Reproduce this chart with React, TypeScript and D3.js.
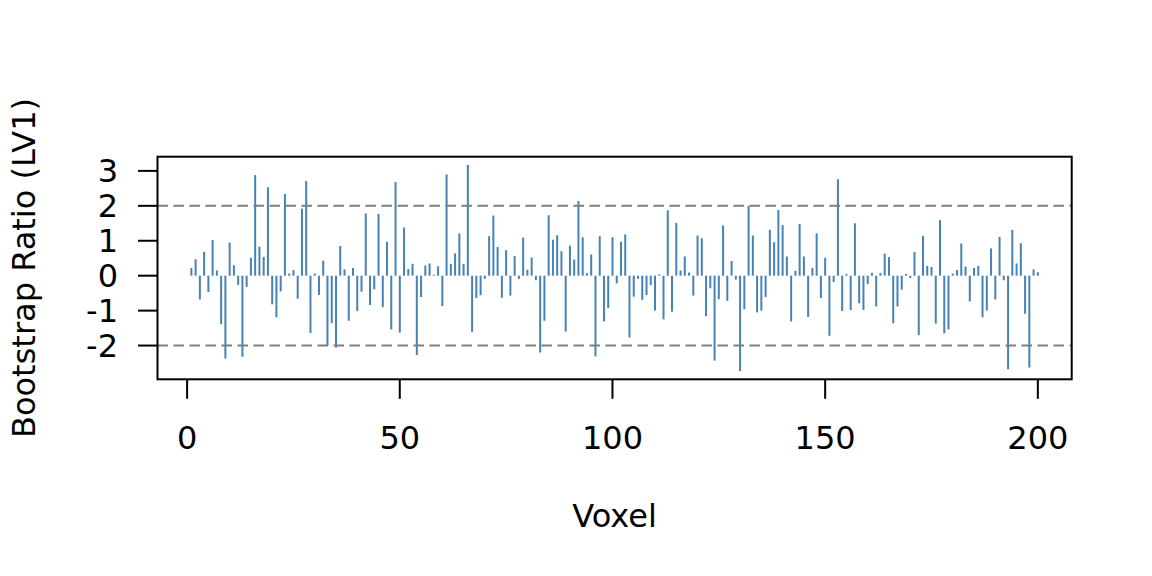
import * as d3 from 'd3'

// Bootstrap ratios for voxels 1..200
const ratios: number[] = [
  0.22, 0.47, -0.68, 0.68, -0.47, 1.02, 0.15, -1.39, -2.37, 0.95,
  0.3, -0.26, -2.32, -0.32, 0.51, 2.88, 0.83, 0.54, 2.53, -0.82,
  -1.19, -0.45, 2.34, 0.06, 0.16, -0.66, 1.92, 2.71, -1.64, 0.06,
  -0.55, 0.43, -2.0, -1.36, -2.06, 0.85, 0.18, -1.29, 0.22, -1.01,
  -0.46, 1.78, -0.84, -0.39, 1.77, -0.9, 0.97, -1.54, 2.68, -1.63,
  1.38, 0.19, 0.34, -2.27, -0.61, 0.29, 0.35, 0.03, 0.27, -0.87,
  2.9, 0.34, 0.64, 1.21, 0.34, 3.17, -1.61, -0.64, -0.56, -0.09,
  1.13, 1.72, 0.82, -0.63, 0.73, -0.57, 0.56, -0.09, 1.09, 0.17,
  0.52, -0.13, -2.2, -1.29, 1.73, 1.03, 1.16, 0.7, -1.6, 0.86,
  0.46, 2.14, 1.1, 0.07, 0.61, -2.31, 1.13, -1.31, -0.93, 1.1,
  -0.22, 0.97, 1.18, -1.77, -0.6, -0.09, -0.69, -0.55, -0.27, -1.0,
  0.04, -1.25, 1.87, -1.03, 1.51, 0.15, 0.55, 0.09, -0.57, 1.15,
  1.07, -1.16, -0.36, -2.43, -0.67, 1.44, -0.72, 0.42, -0.11, -2.73,
  -0.96, 2.0, 1.15, -1.05, -1.0, -0.61, 1.31, 0.96, 1.88, 1.45,
  0.55, -1.31, 0.14, 1.48, 0.55, -1.18, 0.22, 1.21, -0.64, 0.51,
  -1.72, -0.18, 2.76, -1.01, 0.05, -0.98, 1.5, -0.79, -0.98, -0.24,
  0.08, -0.88, 0.08, 0.63, 0.53, -1.36, -0.88, -0.4, 0.05, -0.07,
  0.68, -1.7, 1.14, 0.28, 0.25, -1.37, 1.59, -1.65, -1.54, 0.06,
  0.16, 0.92, 0.26, -0.74, 0.22, 0.28, -1.19, -1.0, 0.78, -0.68,
  1.11, -0.13, -2.68, 1.31, 0.35, 0.93, -1.09, -2.63, 0.18, 0.1,
]
const voxels = ratios.map((_, i) => i + 1)
const xTicks = [0, 50, 100, 150, 200]
const yTicks = [-2, -1, 0, 1, 2, 3]
const cutoffs = [-2, 2]

const width = 1152
const height = 576
const margin = { top: 156.7, right: 80.3, bottom: 196.7, left: 157.5 }
const font = "'DejaVu Sans', sans-serif"
const fontSize = 32

// R style 4% axis extension
function extend([lo, hi]: [number, number]): [number, number] {
  const pad = (hi - lo) * 0.04
  return [lo - pad, hi + pad]
}

export default function App() {
  const x = d3.scaleLinear()
    .domain(extend(d3.extent(voxels) as [number, number]))
    .range([margin.left, width - margin.right])
  const y = d3.scaleLinear()
    .domain(extend(d3.extent(ratios) as [number, number]))
    .range([height - margin.bottom, margin.top])

  const [x0, x1] = x.range()
  const [yb, yt] = y.range()
  const tick = 19.5

  return (
    <svg
      width={width}
      height={height}
      style={{ position: 'absolute', left: 0, top: 0, display: 'block', background: '#fff' }}
      fontFamily={font}
    >
      {/* bars (type = "h") */}
      <g stroke="#4682B4" strokeWidth={2}>
        {ratios.map((v, i) => (
          <line key={i} x1={x(voxels[i])} x2={x(voxels[i])} y1={y(0)} y2={y(v)} />
        ))}
      </g>

      {/* cutoff lines */}
      <g stroke="#7f7f7f" strokeWidth={2} strokeDasharray="10.5,5.5">
        {cutoffs.map(c => (
          <line key={c} x1={x0} x2={x1} y1={y(c)} y2={y(c)} />
        ))}
      </g>

      {/* box */}
      <rect x={x0} y={yt} width={x1 - x0} height={yb - yt} fill="none" stroke="#000" strokeWidth={2} />

      {/* x axis */}
      <g>
        {xTicks.map(t => (
          <g key={t}>
            <line x1={x(t)} x2={x(t)} y1={yb} y2={yb + tick} stroke="#000" strokeWidth={2} />
            <text x={x(t)} y={448.5} textAnchor="middle" fontSize={fontSize}>{t}</text>
          </g>
        ))}
      </g>

      {/* y axis */}
      <g>
        {yTicks.map(t => (
          <g key={t}>
            <line x1={x0 - tick} x2={x0} y1={y(t)} y2={y(t)} stroke="#000" strokeWidth={2} />
            <text x={118} y={y(t) + 11.5} textAnchor="end" fontSize={fontSize}>{t}</text>
          </g>
        ))}
      </g>

      <text x={(x0 + x1) / 2} y={526.7} textAnchor="middle" fontSize={fontSize}>Voxel</text>
      <text
        transform={`translate(35,${(yt + yb) / 2}) rotate(-90)`}
        textAnchor="middle"
        fontSize={fontSize}
      >
        Bootstrap Ratio (LV1)
      </text>
    </svg>
  )
}
